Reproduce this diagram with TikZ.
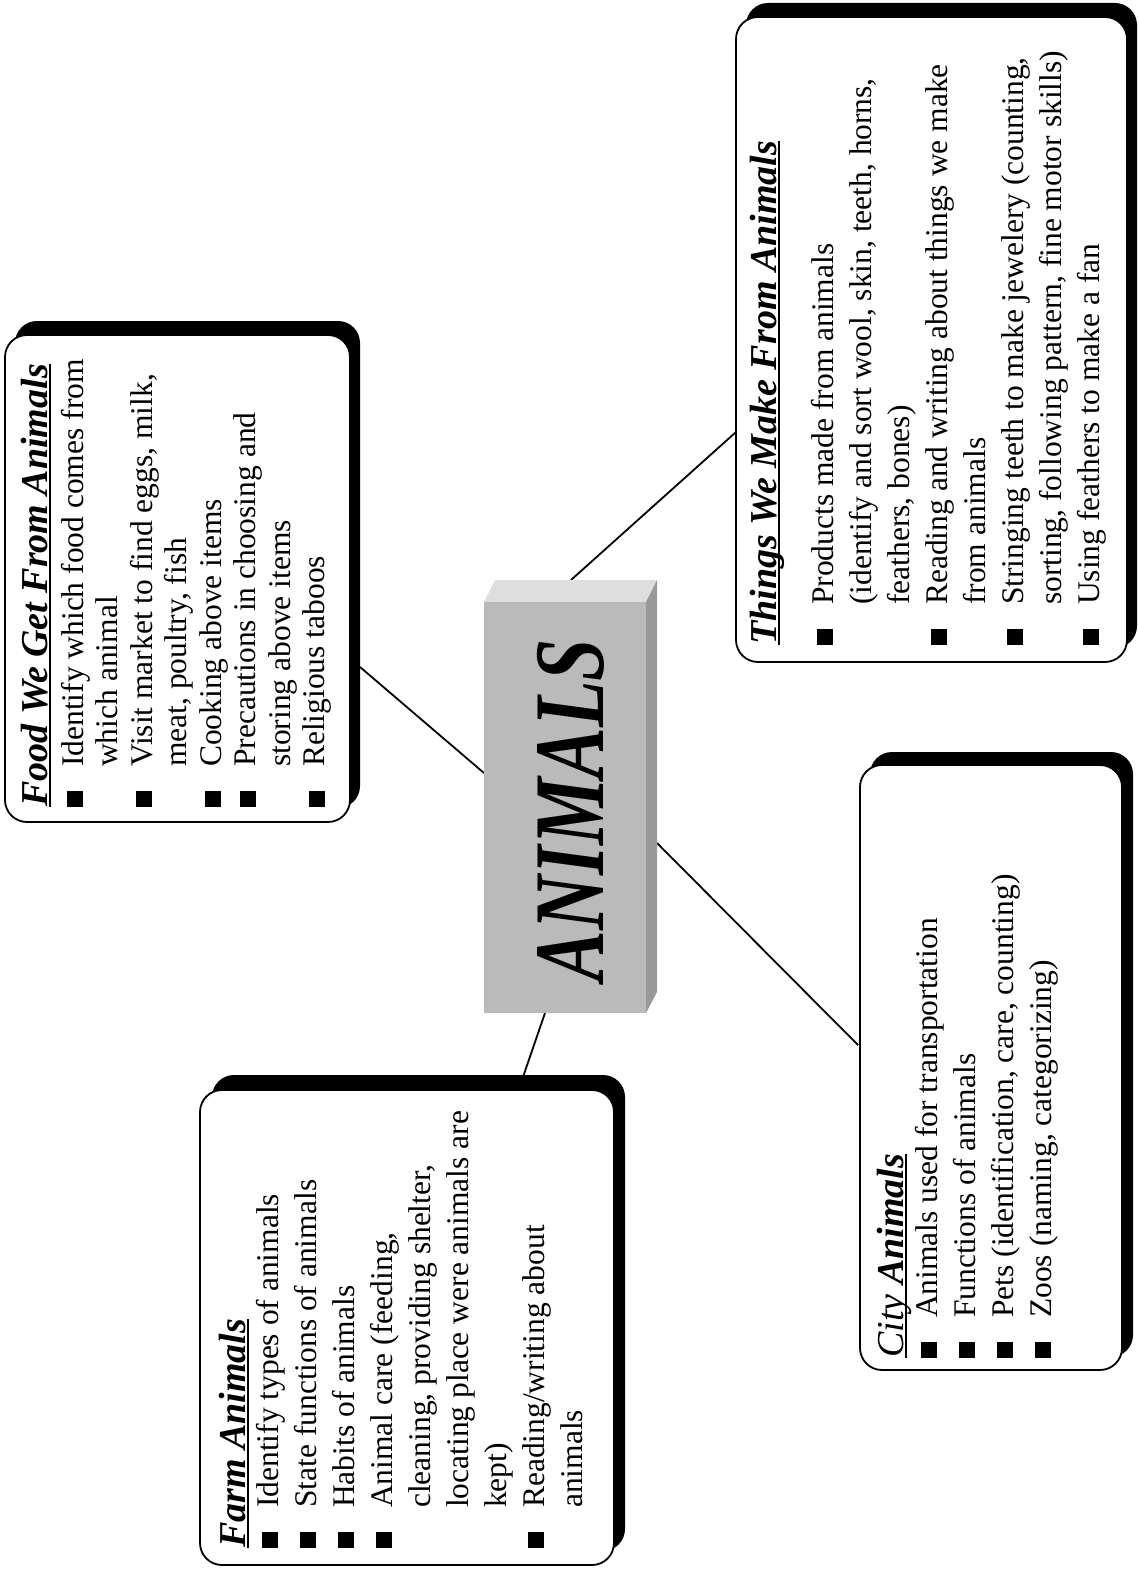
\documentclass[tikz,border=0pt]{standalone}
\usepackage{graphicx}
\usepackage{fontspec}
\setmainfont{Liberation Serif}

\definecolor{hubfront}{gray}{0.73}
\definecolor{hubtop}{gray}{0.87}
\definecolor{hubside}{gray}{0.60}

\newcommand{\bul}{\makebox[40pt][l]{\rule{16pt}{16pt}}}
\newcommand{\ind}{\hspace*{40pt}}
\newcommand{\ttl}[1]{\leavevmode\setbox0\hbox{\fontsize{38}{40}\selectfont\bfseries\itshape #1}\rlap{\rule[-4pt]{\wd0}{1.8pt}}\box0}

\begin{document}
\begin{tikzpicture}[x=1pt, y=-1pt,
    backshadow/.style={fill=black, rounded corners=22pt},
    card/.style={draw, fill=white, line width=1.8pt, rounded corners=22pt},
    cardtext/.style={rotate=90, anchor=base west, inner sep=0pt},
    link/.style={line width=1.8pt}]
    \useasboundingbox (0,0) rectangle (1138,1571);

    % connector ends
    \coordinate (f1) at (360,667); \coordinate (f2) at (484,773);
    \coordinate (t1) at (736,432); \coordinate (t2) at (571,580);
    \coordinate (m1) at (523,1077); \coordinate (m2) at (545,1013);
    \coordinate (c1) at (657,843); \coordinate (c2) at (858,1045);
    \draw[link] (f1) -- (f2);
    \draw[link] (t1) -- (t2);
    \draw[link] (m1) -- (m2);
    \draw[link] (c1) -- (c2);

    % hub block
    \fill[hubtop] (484,602) -- (495,580) -- (657,580) -- (646,602) -- cycle;
    \fill[hubside] (646,602) -- (657,580) -- (657,992) -- (646,1013) -- cycle;
    \fill[hubfront] (484,602) rectangle (646,1013);
    \node[rotate=90] (hub) at (571,810) {\scalebox{0.76}[1]{\fontsize{100}{100}\selectfont\bfseries\itshape ANIMALS}};

    % food
    \fill[backshadow] (15,321) rectangle (360,808);
    \draw[card] (5,335) rectangle (350,822);
    \node[cardtext] (food) at (47,807) {\parbox[t]{600pt}{\raggedright\fontsize{31.5}{34.5}\selectfont
        \ttl{Food We Get From Animals}\\[1.5pt]
        \bul Identify which food comes from\\
        \ind which animal\\
        \bul Visit market to find eggs, milk,\\
        \ind meat, poultry, fish\\
        \bul Cooking above items\\
        \bul Precautions in choosing and\\
        \ind storing above items\\
        \bul Religious taboos}};

    % things
    \fill[backshadow] (746,3) rectangle (1137,648);
    \draw[card] (736,17) rectangle (1127,662);
    \node[cardtext] (things) at (776,645) {\parbox[t]{640pt}{\raggedright\fontsize{31.5}{38}\selectfont
        \ttl{Things We Make From Animals}\\[19pt]
        \bul Products made from animals\\
        \ind (identify and sort wool, skin, teeth, horns,\\
        \ind feathers, bones)\\
        \bul Reading and writing about things we make\\
        \ind from animals\\
        \bul Stringing teeth to make jewelery (counting,\\
        \ind sorting, following pattern, fine motor skills)\\
        \bul Using feathers to make a fan}};

    % farm
    \fill[backshadow] (212,1075) rectangle (625,1551);
    \draw[card] (200,1090) rectangle (614,1565);
    \node[cardtext] (farm) at (245,1548) {\parbox[t]{600pt}{\raggedright\fontsize{31.5}{38}\selectfont
        \ttl{Farm Animals}\\[-5pt]
        \bul Identify types of animals\\
        \bul State functions of animals\\
        \bul Habits of animals\\
        \bul Animal care (feeding,\\
        \ind cleaning, providing shelter,\\
        \ind locating place were animals are\\
        \ind kept)\\
        \bul Reading/writing about\\
        \ind animals}};

    % city
    \fill[backshadow] (870,752) rectangle (1133,1357);
    \draw[card] (860,765) rectangle (1122,1370);
    \node[cardtext] (city) at (903,1358) {\parbox[t]{600pt}{\raggedright\fontsize{31.5}{38}\selectfont
        \ttl{{\mdseries City} Animals}\\[-4pt]
        \bul Animals used for transportation\\
        \bul Functions of animals\\
        \bul Pets (identification, care, counting)\\
        \bul Zoos (naming, categorizing)}};
\end{tikzpicture}
\end{document}
